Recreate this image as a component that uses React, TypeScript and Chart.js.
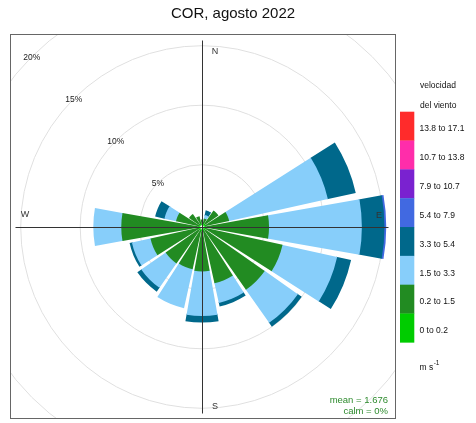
import React, { useEffect, useRef } from "react";
import { Chart, registerables } from "chart.js";

Chart.register(...registerables);

// ---------- data ----------
const TITLE = "COR, agosto 2022";
const directions = ["N", "NNE", "NE", "ENE", "E", "ESE", "SE", "SSE", "S", "SSW", "SW", "WSW", "W", "WNW", "NW", "NNW"];
const speedBins = ["0 to 0.2", "0.2 to 1.5", "1.5 to 3.3", "3.3 to 5.4", "5.4 to 7.9", "7.9 to 10.7", "10.7 to 13.8", "13.8 to 17.1"];
const binColors = ["#00CC00", "#228B22", "#87CEFA", "#00688B", "#4169E1", "#7A22D0", "#FF2DAA", "#FF2B2B"];

// percent of time per direction for each speed bin (m/s)
const pct_0_02 = [0.05, 0.08, 0.1, 0.1, 0.1, 0.1, 0.1, 0.1, 0.1, 0.1, 0.08, 0.08, 0.08, 0.05, 0.05, 0.05];
const pct_02_15 = [0.35, 0.42, 1.35, 2.0, 5.3, 6.6, 6.1, 4.5, 3.4, 3.3, 3.42, 4.12, 6.47, 1.95, 1.05, 0.65];
const pct_15_33 = [0, 0.3, 0, 8.5, 7.8, 4.7, 3.4, 1.7, 3.75, 3.35, 2.5, 1.6, 2.35, 1.0, 0, 0];
const pct_33_54 = [0, 0.4, 0, 2.4, 1.9, 1.2, 0.4, 0.3, 0.55, 0, 0.4, 0.2, 0, 0.8, 0, 0];
const pct_54_79 = [0, 0, 0, 0, 0.15, 0, 0, 0, 0, 0, 0, 0, 0, 0, 0, 0];
const pct_79_107 = [0, 0, 0, 0, 0, 0, 0, 0, 0, 0, 0, 0, 0, 0, 0, 0];
const pct_107_138 = [0, 0, 0, 0, 0, 0, 0, 0, 0, 0, 0, 0, 0, 0, 0, 0];
const pct_138_171 = [0, 0, 0, 0, 0, 0, 0, 0, 0, 0, 0, 0, 0, 0, 0, 0];
const binSeries = [pct_0_02, pct_02_15, pct_15_33, pct_33_54, pct_54_79, pct_79_107, pct_107_138, pct_138_171];

const gridPercents = [5, 10, 15, 20];
const meanLabel = "mean = 1.676";
const calmLabel = "calm = 0%";
const legendTitle = ["velocidad", "del viento"];
const unitsMain = "m s";
const unitsSup = "-1";

// ---------- scale / layout ----------
const R_MIN = -0.235;
const R_MAX = 15.48;
const SECTOR = 20; // degrees drawn per direction
const GAP = 2.5; // degrees between sectors
const FONT = '"Liberation Sans", Arial, Helvetica, sans-serif';
const W = 476;
const H = 423;
const BOX = { x: 10.5, y: 34.5, w: 385, h: 384 };

function buildDatasets() {
  const datasets: any[] = [];
  const cum = directions.map(() => 0);
  binSeries.forEach((series, k) => {
    const data: number[] = [];
    const base: (number | null)[] = [];
    const colors: string[] = [];
    const angles: number[] = [];
    directions.forEach((_, i) => {
      base.push(cum[i]);
      cum[i] += series[i];
      data.push(cum[i]);
      colors.push(binColors[k]);
      angles.push(SECTOR);
      data.push(R_MIN);
      base.push(null);
      colors.push("rgba(0,0,0,0)");
      angles.push(GAP);
    });
    datasets.push({
      label: speedBins[k],
      data,
      base,
      backgroundColor: colors,
      borderWidth: 0,
      angle: angles,
    });
  });
  return datasets;
}

// turn each stacked segment into a ring (inner radius = previous cumulative value)
const rings = {
  id: "rings",
  afterDatasetUpdate(chart: any, args: any) {
    const ds = chart.data.datasets[args.index];
    const r = chart.scales.r;
    args.meta.data.forEach((el: any, i: number) => {
      const b = ds.base[i];
      if (b == null) {
        el.innerRadius = 0;
        return;
      }
      if (ds.data[i] > b) {
        el.innerRadius = Math.max(0, r.getDistanceFromCenterForValue(b) - 1);
      } else {
        el.innerRadius = el.outerRadius;
      }
    });
  },
};

const decor = {
  id: "roseDecor",
  beforeDatasetsDraw(chart: any) {
    const ctx = chart.ctx;
    const r = chart.scales.r;
    const cx = r.xCenter;
    const cy = r.yCenter;
    ctx.save();
    ctx.beginPath();
    ctx.rect(BOX.x, BOX.y, BOX.w, BOX.h);
    ctx.clip();
    ctx.strokeStyle = "#e0e0e0";
    ctx.lineWidth = 1;
    gridPercents.forEach((p) => {
      const d = r.getDistanceFromCenterForValue(p);
      ctx.beginPath();
      ctx.arc(cx, cy, d, 0, Math.PI * 2);
      ctx.stroke();
    });
    ctx.restore();
  },
  afterDatasetsDraw(chart: any) {
    const ctx = chart.ctx;
    const r = chart.scales.r;
    const cx = r.xCenter;
    const cy = r.yCenter;
    const ext = r.drawingArea - 0.5;
    ctx.save();
    // panel box
    ctx.strokeStyle = "#666";
    ctx.lineWidth = 1;
    ctx.strokeRect(BOX.x, BOX.y, BOX.w, BOX.h);
    // axes
    ctx.strokeStyle = "#333";
    ctx.beginPath();
    ctx.moveTo(cx + 0.5, cy - ext);
    ctx.lineTo(cx + 0.5, cy + ext);
    ctx.moveTo(cx - ext, cy + 0.5);
    ctx.lineTo(cx + ext, cy + 0.5);
    ctx.stroke();

    // percent labels along NW
    ctx.fillStyle = "#222";
    ctx.font = `8.5px ${FONT}`;
    ctx.textAlign = "center";
    ctx.textBaseline = "middle";
    gridPercents.forEach((p) => {
      const d = r.getDistanceFromCenterForValue(p);
      ctx.fillText(`${p}%`, cx - d * Math.SQRT1_2, cy - d * Math.SQRT1_2 + 1);
    });

    // compass letters
    ctx.font = `9px ${FONT}`;
    ctx.fillStyle = "#333";
    const dc = r.getDistanceFromCenterForValue(14.65);
    ctx.fillText("N", cx + 13, cy - dc + 2);
    ctx.fillText("S", cx + 13, cy + dc + 2);
    ctx.fillText("W", cx - dc, cy - 12);
    ctx.fillText("E", cx + dc, cy - 11);

    // mean / calm
    ctx.font = `9.5px ${FONT}`;
    ctx.fillStyle = "#2E8B2E";
    ctx.textAlign = "right";
    ctx.fillText(meanLabel, 388, 400);
    ctx.fillText(calmLabel, 388, 411.5);

    // title
    ctx.font = `15px ${FONT}`;
    ctx.fillStyle = "#111";
    ctx.textAlign = "center";
    ctx.fillText(TITLE, 233, 14);

    // legend
    ctx.font = `8.5px ${FONT}`;
    ctx.fillStyle = "#111";
    ctx.textAlign = "left";
    ctx.fillText(legendTitle[0], 420, 86);
    ctx.fillText(legendTitle[1], 420, 106);
    const top = 111.7;
    const bh = 28.83;
    const n = speedBins.length;
    for (let j = 0; j < n; j++) {
      const k = n - 1 - j;
      const y = top + j * bh;
      ctx.fillStyle = binColors[k];
      ctx.fillRect(400, y, 14.3, bh + 0.3);
      ctx.fillStyle = "#111";
      ctx.fillText(speedBins[k], 419.5, y + bh / 2 + 3);
    }
    ctx.fillText(unitsMain, 419.5, 368);
    const wm = ctx.measureText(unitsMain).width;
    ctx.font = `6.5px ${FONT}`;
    ctx.fillText(unitsSup, 419.5 + wm + 0.5, 363.5);
    ctx.restore();
  },
};

export default function App() {
  const ref = useRef<HTMLCanvasElement | null>(null);
  useEffect(() => {
    if (!ref.current) return;
    const labels: string[] = [];
    directions.forEach((d) => {
      labels.push(d);
      labels.push("");
    });
    const chart = new Chart(ref.current, {
      type: "polarArea",
      data: { labels, datasets: buildDatasets() },
      options: {
        responsive: false,
        animation: false,
        events: [],
        layout: { padding: { left: 15, top: 40, right: 87, bottom: 9 } },
        plugins: { legend: { display: false }, title: { display: false }, tooltip: { enabled: false } },
        scales: {
          r: {
            min: R_MIN,
            max: R_MAX,
            beginAtZero: false,
            startAngle: -SECTOR / 2,
            grid: { display: false },
            angleLines: { display: false },
            ticks: { display: false },
            pointLabels: { display: false },
          },
        },
      } as any,
      plugins: [rings, decor],
    });
    return () => chart.destroy();
  }, []);
  return (
    <div style={{ position: "fixed", left: 0, top: 0, width: W, height: H, background: "#fff" }}>
      <canvas ref={ref} width={W} height={H} style={{ display: "block" }} />
    </div>
  );
}
